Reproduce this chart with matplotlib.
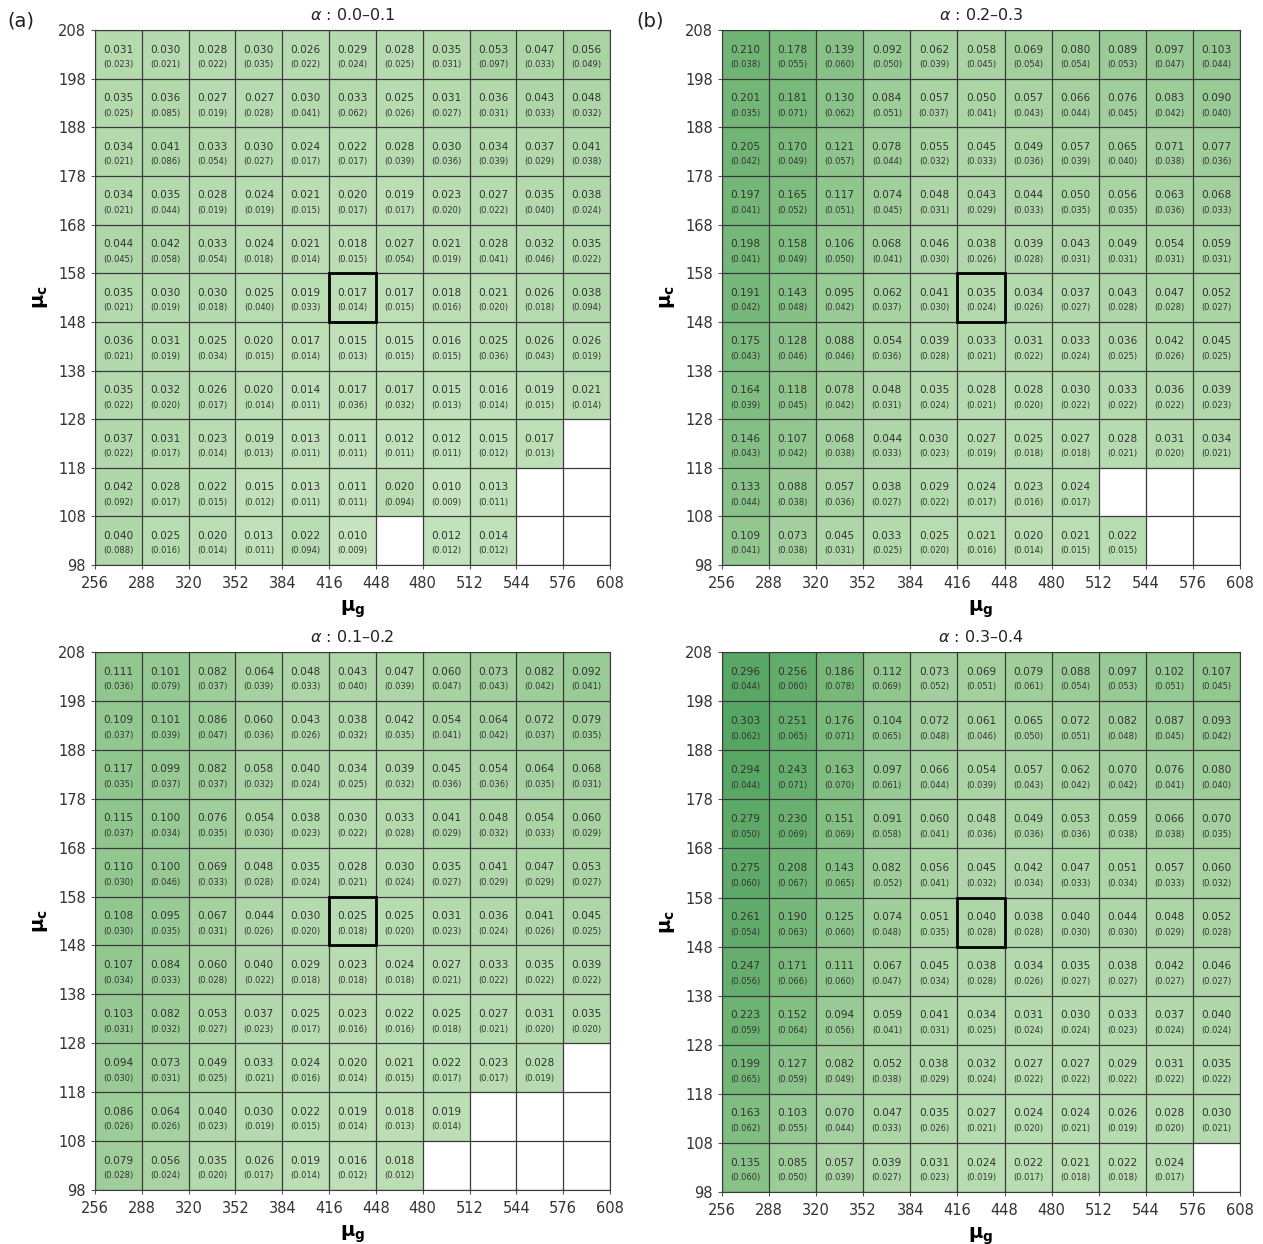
import numpy as np
import matplotlib
matplotlib.use('Agg')
import matplotlib.pyplot as plt
from matplotlib.colors import LinearSegmentedColormap, PowerNorm

# grid of mu_g (columns) and mu_c (rows)
mu_g_edges = np.arange(256, 609, 32)
mu_c_edges = np.arange(98, 209, 10)
best_g, best_c = 416, 148   # lower-left corner of the outlined cell

# rows listed from top (mu_c 198-208) to bottom (98-108); None = no run
mean_a = [
    [0.031, 0.030, 0.028, 0.030, 0.026, 0.029, 0.028, 0.035, 0.053, 0.047, 0.056],
    [0.035, 0.036, 0.027, 0.027, 0.030, 0.033, 0.025, 0.031, 0.036, 0.043, 0.048],
    [0.034, 0.041, 0.033, 0.030, 0.024, 0.022, 0.028, 0.030, 0.034, 0.037, 0.041],
    [0.034, 0.035, 0.028, 0.024, 0.021, 0.020, 0.019, 0.023, 0.027, 0.035, 0.038],
    [0.044, 0.042, 0.033, 0.024, 0.021, 0.018, 0.027, 0.021, 0.028, 0.032, 0.035],
    [0.035, 0.030, 0.030, 0.025, 0.019, 0.017, 0.017, 0.018, 0.021, 0.026, 0.038],
    [0.036, 0.031, 0.025, 0.020, 0.017, 0.015, 0.015, 0.016, 0.025, 0.026, 0.026],
    [0.035, 0.032, 0.026, 0.020, 0.014, 0.017, 0.017, 0.015, 0.016, 0.019, 0.021],
    [0.037, 0.031, 0.023, 0.019, 0.013, 0.011, 0.012, 0.012, 0.015, 0.017, None],
    [0.042, 0.028, 0.022, 0.015, 0.013, 0.011, 0.020, 0.010, 0.013, None, None],
    [0.040, 0.025, 0.020, 0.013, 0.022, 0.010, None, 0.012, 0.014, None, None],
]
std_a = [
    [0.023, 0.021, 0.022, 0.035, 0.022, 0.024, 0.025, 0.031, 0.097, 0.033, 0.049],
    [0.025, 0.085, 0.019, 0.028, 0.041, 0.062, 0.026, 0.027, 0.031, 0.033, 0.032],
    [0.021, 0.086, 0.054, 0.027, 0.017, 0.017, 0.039, 0.036, 0.039, 0.029, 0.038],
    [0.021, 0.044, 0.019, 0.019, 0.015, 0.017, 0.017, 0.020, 0.022, 0.040, 0.024],
    [0.045, 0.058, 0.054, 0.018, 0.014, 0.015, 0.054, 0.019, 0.041, 0.046, 0.022],
    [0.021, 0.019, 0.018, 0.040, 0.033, 0.014, 0.015, 0.016, 0.020, 0.018, 0.094],
    [0.021, 0.019, 0.034, 0.015, 0.014, 0.013, 0.015, 0.015, 0.036, 0.043, 0.019],
    [0.022, 0.020, 0.017, 0.014, 0.011, 0.036, 0.032, 0.013, 0.014, 0.015, 0.014],
    [0.022, 0.017, 0.014, 0.013, 0.011, 0.011, 0.011, 0.011, 0.012, 0.013, None],
    [0.092, 0.017, 0.015, 0.012, 0.011, 0.011, 0.094, 0.009, 0.011, None, None],
    [0.088, 0.016, 0.014, 0.011, 0.094, 0.009, None, 0.012, 0.012, None, None],
]

mean_b = [
    [0.210, 0.178, 0.139, 0.092, 0.062, 0.058, 0.069, 0.080, 0.089, 0.097, 0.103],
    [0.201, 0.181, 0.130, 0.084, 0.057, 0.050, 0.057, 0.066, 0.076, 0.083, 0.090],
    [0.205, 0.170, 0.121, 0.078, 0.055, 0.045, 0.049, 0.057, 0.065, 0.071, 0.077],
    [0.197, 0.165, 0.117, 0.074, 0.048, 0.043, 0.044, 0.050, 0.056, 0.063, 0.068],
    [0.198, 0.158, 0.106, 0.068, 0.046, 0.038, 0.039, 0.043, 0.049, 0.054, 0.059],
    [0.191, 0.143, 0.095, 0.062, 0.041, 0.035, 0.034, 0.037, 0.043, 0.047, 0.052],
    [0.175, 0.128, 0.088, 0.054, 0.039, 0.033, 0.031, 0.033, 0.036, 0.042, 0.045],
    [0.164, 0.118, 0.078, 0.048, 0.035, 0.028, 0.028, 0.030, 0.033, 0.036, 0.039],
    [0.146, 0.107, 0.068, 0.044, 0.030, 0.027, 0.025, 0.027, 0.028, 0.031, 0.034],
    [0.133, 0.088, 0.057, 0.038, 0.029, 0.024, 0.023, 0.024, None, None, None],
    [0.109, 0.073, 0.045, 0.033, 0.025, 0.021, 0.020, 0.021, 0.022, None, None],
]
std_b = [
    [0.038, 0.055, 0.060, 0.050, 0.039, 0.045, 0.054, 0.054, 0.053, 0.047, 0.044],
    [0.035, 0.071, 0.062, 0.051, 0.037, 0.041, 0.043, 0.044, 0.045, 0.042, 0.040],
    [0.042, 0.049, 0.057, 0.044, 0.032, 0.033, 0.036, 0.039, 0.040, 0.038, 0.036],
    [0.041, 0.052, 0.051, 0.045, 0.031, 0.029, 0.033, 0.035, 0.035, 0.036, 0.033],
    [0.041, 0.049, 0.050, 0.041, 0.030, 0.026, 0.028, 0.031, 0.031, 0.031, 0.031],
    [0.042, 0.048, 0.042, 0.037, 0.030, 0.024, 0.026, 0.027, 0.028, 0.028, 0.027],
    [0.043, 0.046, 0.046, 0.036, 0.028, 0.021, 0.022, 0.024, 0.025, 0.026, 0.025],
    [0.039, 0.045, 0.042, 0.031, 0.024, 0.021, 0.020, 0.022, 0.022, 0.022, 0.023],
    [0.043, 0.042, 0.038, 0.033, 0.023, 0.019, 0.018, 0.018, 0.021, 0.020, 0.021],
    [0.044, 0.038, 0.036, 0.027, 0.022, 0.017, 0.016, 0.017, None, None, None],
    [0.041, 0.038, 0.031, 0.025, 0.020, 0.016, 0.014, 0.015, 0.015, None, None],
]

mean_c = [
    [0.111, 0.101, 0.082, 0.064, 0.048, 0.043, 0.047, 0.060, 0.073, 0.082, 0.092],
    [0.109, 0.101, 0.086, 0.060, 0.043, 0.038, 0.042, 0.054, 0.064, 0.072, 0.079],
    [0.117, 0.099, 0.082, 0.058, 0.040, 0.034, 0.039, 0.045, 0.054, 0.064, 0.068],
    [0.115, 0.100, 0.076, 0.054, 0.038, 0.030, 0.033, 0.041, 0.048, 0.054, 0.060],
    [0.110, 0.100, 0.069, 0.048, 0.035, 0.028, 0.030, 0.035, 0.041, 0.047, 0.053],
    [0.108, 0.095, 0.067, 0.044, 0.030, 0.025, 0.025, 0.031, 0.036, 0.041, 0.045],
    [0.107, 0.084, 0.060, 0.040, 0.029, 0.023, 0.024, 0.027, 0.033, 0.035, 0.039],
    [0.103, 0.082, 0.053, 0.037, 0.025, 0.023, 0.022, 0.025, 0.027, 0.031, 0.035],
    [0.094, 0.073, 0.049, 0.033, 0.024, 0.020, 0.021, 0.022, 0.023, 0.028, None],
    [0.086, 0.064, 0.040, 0.030, 0.022, 0.019, 0.018, 0.019, None, None, None],
    [0.079, 0.056, 0.035, 0.026, 0.019, 0.016, 0.018, None, None, None, None],
]
std_c = [
    [0.036, 0.079, 0.037, 0.039, 0.033, 0.040, 0.039, 0.047, 0.043, 0.042, 0.041],
    [0.037, 0.039, 0.047, 0.036, 0.026, 0.032, 0.035, 0.041, 0.042, 0.037, 0.035],
    [0.035, 0.037, 0.037, 0.032, 0.024, 0.025, 0.032, 0.036, 0.036, 0.035, 0.031],
    [0.037, 0.034, 0.035, 0.030, 0.023, 0.022, 0.028, 0.029, 0.032, 0.033, 0.029],
    [0.030, 0.046, 0.033, 0.028, 0.024, 0.021, 0.024, 0.027, 0.029, 0.029, 0.027],
    [0.030, 0.035, 0.031, 0.026, 0.020, 0.018, 0.020, 0.023, 0.024, 0.026, 0.025],
    [0.034, 0.033, 0.028, 0.022, 0.018, 0.018, 0.018, 0.021, 0.022, 0.022, 0.022],
    [0.031, 0.032, 0.027, 0.023, 0.017, 0.016, 0.016, 0.018, 0.021, 0.020, 0.020],
    [0.030, 0.031, 0.025, 0.021, 0.016, 0.014, 0.015, 0.017, 0.017, 0.019, None],
    [0.026, 0.026, 0.023, 0.019, 0.015, 0.014, 0.013, 0.014, None, None, None],
    [0.028, 0.024, 0.020, 0.017, 0.014, 0.012, 0.012, None, None, None, None],
]

mean_d = [
    [0.296, 0.256, 0.186, 0.112, 0.073, 0.069, 0.079, 0.088, 0.097, 0.102, 0.107],
    [0.303, 0.251, 0.176, 0.104, 0.072, 0.061, 0.065, 0.072, 0.082, 0.087, 0.093],
    [0.294, 0.243, 0.163, 0.097, 0.066, 0.054, 0.057, 0.062, 0.070, 0.076, 0.080],
    [0.279, 0.230, 0.151, 0.091, 0.060, 0.048, 0.049, 0.053, 0.059, 0.066, 0.070],
    [0.275, 0.208, 0.143, 0.082, 0.056, 0.045, 0.042, 0.047, 0.051, 0.057, 0.060],
    [0.261, 0.190, 0.125, 0.074, 0.051, 0.040, 0.038, 0.040, 0.044, 0.048, 0.052],
    [0.247, 0.171, 0.111, 0.067, 0.045, 0.038, 0.034, 0.035, 0.038, 0.042, 0.046],
    [0.223, 0.152, 0.094, 0.059, 0.041, 0.034, 0.031, 0.030, 0.033, 0.037, 0.040],
    [0.199, 0.127, 0.082, 0.052, 0.038, 0.032, 0.027, 0.027, 0.029, 0.031, 0.035],
    [0.163, 0.103, 0.070, 0.047, 0.035, 0.027, 0.024, 0.024, 0.026, 0.028, 0.030],
    [0.135, 0.085, 0.057, 0.039, 0.031, 0.024, 0.022, 0.021, 0.022, 0.024, None],
]
std_d = [
    [0.044, 0.060, 0.078, 0.069, 0.052, 0.051, 0.061, 0.054, 0.053, 0.051, 0.045],
    [0.062, 0.065, 0.071, 0.065, 0.048, 0.046, 0.050, 0.051, 0.048, 0.045, 0.042],
    [0.044, 0.071, 0.070, 0.061, 0.044, 0.039, 0.043, 0.042, 0.042, 0.041, 0.040],
    [0.050, 0.069, 0.069, 0.058, 0.041, 0.036, 0.036, 0.036, 0.038, 0.038, 0.035],
    [0.060, 0.067, 0.065, 0.052, 0.041, 0.032, 0.034, 0.033, 0.034, 0.033, 0.032],
    [0.054, 0.063, 0.060, 0.048, 0.035, 0.028, 0.028, 0.030, 0.030, 0.029, 0.028],
    [0.056, 0.066, 0.060, 0.047, 0.034, 0.028, 0.026, 0.027, 0.027, 0.027, 0.027],
    [0.059, 0.064, 0.056, 0.041, 0.031, 0.025, 0.024, 0.024, 0.023, 0.024, 0.024],
    [0.065, 0.059, 0.049, 0.038, 0.029, 0.024, 0.022, 0.022, 0.022, 0.022, 0.022],
    [0.062, 0.055, 0.044, 0.033, 0.026, 0.021, 0.020, 0.021, 0.019, 0.020, 0.021],
    [0.060, 0.050, 0.039, 0.027, 0.023, 0.019, 0.017, 0.018, 0.018, 0.017, None],
]

panels = [
    ('0.0\u20130.1', mean_a, std_a, [0.0752, 0.5458, 0.4078, 0.4300]),
    ('0.2\u20130.3', mean_b, std_b, [0.5717, 0.5458, 0.4100, 0.4300]),
    ('0.1\u20130.2', mean_c, std_c, [0.0752, 0.0434, 0.4078, 0.4325]),
    ('0.3\u20130.4', mean_d, std_d, [0.5717, 0.0418, 0.4100, 0.4340]),
]

greens = LinearSegmentedColormap.from_list('greens', ['#c6e4bf', '#a9d3a3', '#7fbd80', '#55a562'])
norm = PowerNorm(gamma=0.6, vmin=0.01, vmax=0.31)

def to_array(rows):
    return np.array([[np.nan if v is None else v for v in r] for r in rows], dtype=float)[::-1]

fig = plt.figure(figsize=(12.63, 12.44), dpi=100)

for title, mean_rows, std_rows, pos in panels:
    ax = fig.add_axes(pos)
    m = to_array(mean_rows)
    s = to_array(std_rows)
    ax.pcolormesh(mu_g_edges, mu_c_edges, np.ma.masked_invalid(m), cmap=greens, norm=norm)

    # cell borders, drawn for empty cells too
    ax.vlines(mu_g_edges, mu_c_edges[0], mu_c_edges[-1], colors='#3a3a3a', linewidth=0.9)
    ax.hlines(mu_c_edges, mu_g_edges[0], mu_g_edges[-1], colors='#3a3a3a', linewidth=0.9)
    ax.add_patch(plt.Rectangle((best_g, best_c), 32, 10, fill=False,
                               edgecolor='black', linewidth=2.0, zorder=5))

    for i in range(m.shape[0]):
        for j in range(m.shape[1]):
            if np.isnan(m[i, j]):
                continue
            xc = mu_g_edges[j] + 16
            yc = mu_c_edges[i] + 5
            ax.text(xc, yc + 1.0, f'{m[i, j]:.3f}', ha='center', va='center',
                    fontsize=7.6, color='#333333')
            ax.text(xc, yc - 2.1, f'({s[i, j]:.3f})', ha='center', va='center',
                    fontsize=6.0, color='#333333')

    ax.set_xlim(mu_g_edges[0], mu_g_edges[-1])
    ax.set_ylim(mu_c_edges[0], mu_c_edges[-1])
    ax.set_xticks(mu_g_edges)
    ax.set_yticks(mu_c_edges)
    ax.tick_params(labelsize=10.5, length=3, color='#555555', labelcolor='#333333')
    ax.tick_params(axis='x', pad=5)
    for sp in ax.spines.values():
        sp.set_color('#3a3a3a')
    ax.set_title(r'$\alpha$ : ' + title, fontsize=11.5, pad=7, color='#222222')
    ax.set_xlabel(r'$\mathbf{\mu_g}$', fontsize=14, labelpad=5)
    ax.set_ylabel(r'$\mathbf{\mu_c}$', fontsize=14, labelpad=6)

fig.text(0.006, 0.983, '(a)', fontsize=14, va='center', color='#222222')
fig.text(0.504, 0.983, '(b)', fontsize=14, va='center', color='#222222')

fig.savefig('out.png', dpi=100)
